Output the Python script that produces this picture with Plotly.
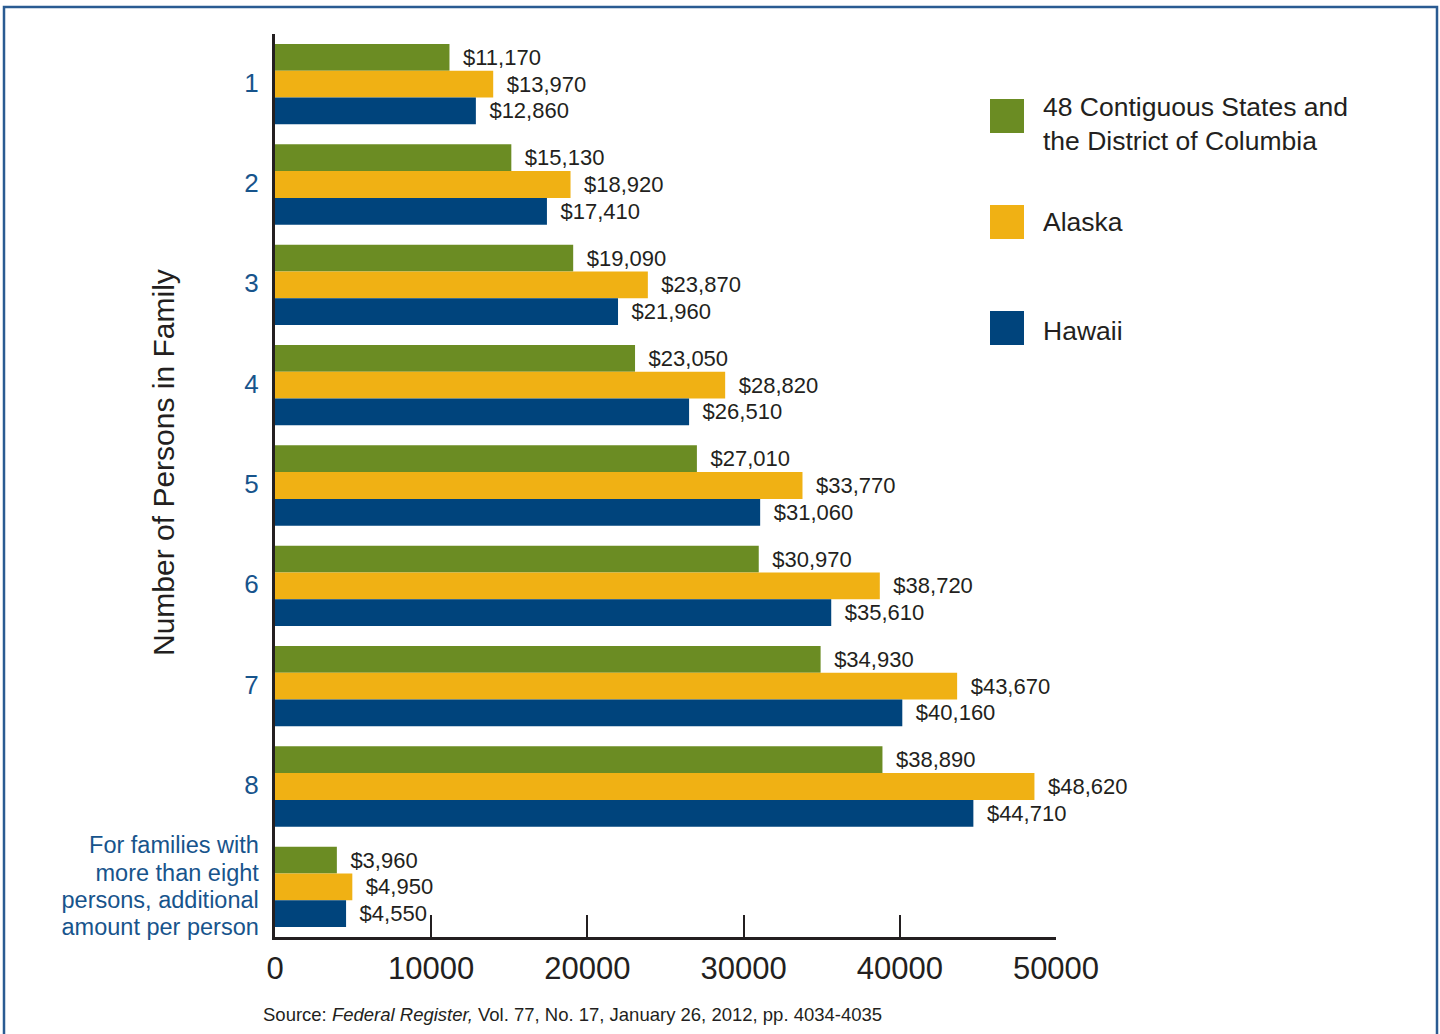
import plotly.graph_objects as go

categories = ["1", "2", "3", "4", "5", "6", "7", "8", "extra"]
category_labels = ["1", "2", "3", "4", "5", "6", "7", "8",
                   "For families with<br>more than eight<br>persons, additional<br>amount per person"]
contiguous = [11170, 15130, 19090, 23050, 27010, 30970, 34930, 38890, 3960]
alaska = [13970, 18920, 23870, 28820, 33770, 38720, 43670, 48620, 4950]
hawaii = [12860, 17410, 21960, 26510, 31060, 35610, 40160, 44710, 4550]
series_names = ["48 Contiguous States and<br>the District of Columbia", "Alaska", "Hawaii"]
series_colors = ["#6B8C23", "#F0B114", "#00447C"]
x_ticks = [0, 10000, 20000, 30000, 40000, 50000]

FONT = "Arial, Liberation Sans, Helvetica, sans-serif"
TEXT = "#231F20"
BLUE_TXT = "#17548C"

W, H = 1440, 1034
L, R, T, B = 275, 1056, 34, 937
pw, ph = R - L, B - T


def px(xp):
    return (xp - L) / pw


def py(yp):
    return (B - yp) / ph


fig = go.Figure()
for name, vals, col in zip(series_names, [contiguous, alaska, hawaii], series_colors):
    fig.add_trace(go.Bar(
        y=categories, x=vals, orientation="h", name=name,
        marker=dict(color=col, line=dict(width=0)),
        texttemplate="\u00a0\u2009$%{x:,}", textposition="outside",
        textfont=dict(family=FONT, size=22, color=TEXT),
        constraintext="none", cliponaxis=False, showlegend=False,
    ))

ticktext = []
for lab in category_labels:
    if "<br>" in lab:
        ticktext.append('<span style="font-size:23.5px">' + lab + "</span>")
    else:
        ticktext.append('<span style="font-size:26px">' + lab + "</span>")

fig.update_layout(
    width=W, height=H,
    margin=dict(l=L, r=W - R, t=T, b=H - B, autoexpand=False),
    paper_bgcolor="white", plot_bgcolor="white",
    barmode="group", bargap=0.2, bargroupgap=0,
    font=dict(family=FONT, color=TEXT),
    xaxis=dict(
        range=[0, 50000], tickvals=x_ticks, ticktext=[str(v) for v in x_ticks],
        ticks="inside", ticklen=22, tickwidth=2, tickcolor=TEXT,
        showline=True, linecolor=TEXT, linewidth=3, showgrid=False, zeroline=False,
        tickfont=dict(family=FONT, size=31, color=TEXT), ticklabelstandoff=2,
    ),
    yaxis=dict(
        categoryorder="array", categoryarray=categories,
        tickvals=categories, ticktext=ticktext,
        range=[len(categories) - 0.5, -0.5],
        showline=True, linecolor=TEXT, linewidth=3, showgrid=False, zeroline=False,
        ticks="", tickfont=dict(family=FONT, size=21, color=BLUE_TXT),
        ticklabelstandoff=9,
    ),
)

shapes = [dict(type="rect", xref="paper", yref="paper",
               x0=px(4), x1=px(1437), y0=py(1045), y1=py(7),
               line=dict(color="#2A5B92", width=2.5), layer="below")]
legend_tops = [99, 205, 311]
legend_text_y = [124, 222, 331]
annotations = []
for name, col, top, ty in zip(series_names, series_colors, legend_tops, legend_text_y):
    shapes.append(dict(type="rect", xref="paper", yref="paper",
                       x0=px(990), x1=px(1024), y0=py(top + 34), y1=py(top),
                       fillcolor=col, line=dict(width=0)))
    annotations.append(dict(xref="paper", yref="paper", x=px(1041), y=py(ty),
                            xanchor="left", yanchor="middle", align="left",
                            text=name, showarrow=False,
                            font=dict(family=FONT, size=26.5, color=TEXT)))

annotations.append(dict(xref="paper", yref="paper", x=px(163), y=py(463),
                        text="Number of Persons in Family", textangle=-90,
                        showarrow=False, xanchor="center", yanchor="middle",
                        font=dict(family=FONT, size=30, color=TEXT)))
annotations.append(dict(xref="paper", yref="paper", x=px(261), y=py(1015),
                        xanchor="left", yanchor="middle",
                        text="Source: <i>Federal Register,</i> Vol. 77, No. 17, January 26, 2012, pp. 4034-4035",
                        showarrow=False, font=dict(family=FONT, size=18.5, color=TEXT)))

fig.update_layout(shapes=shapes, annotations=annotations)
fig.write_html("out.html")
